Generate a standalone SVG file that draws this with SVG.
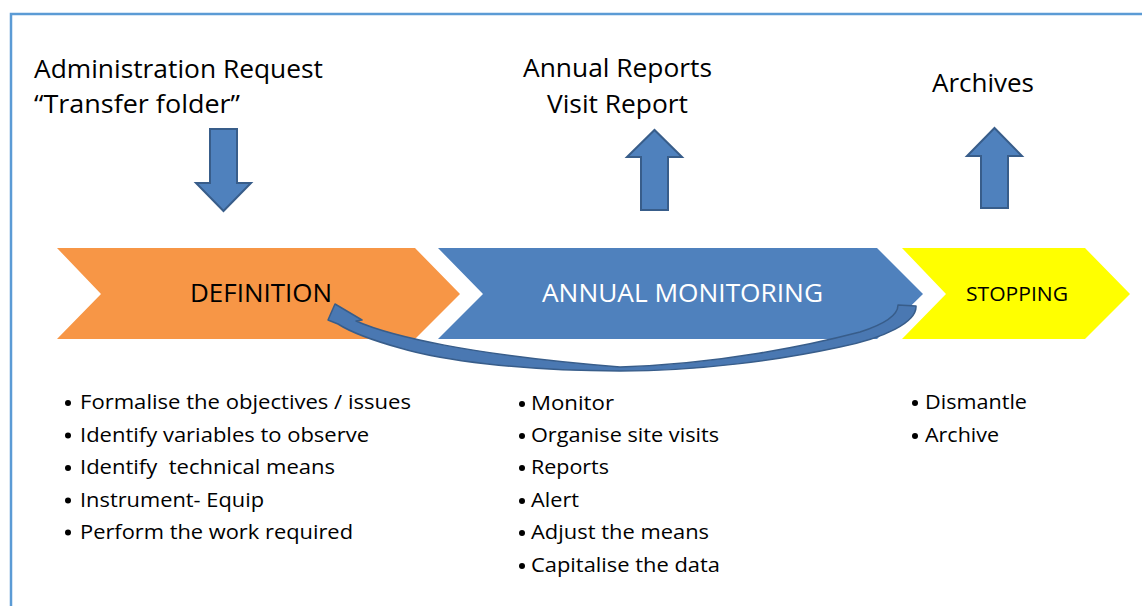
<svg xmlns="http://www.w3.org/2000/svg" width="1142" height="606" viewBox="0 0 1142 606">
<style>
.t{font-family:"Open Sans","Noto Sans",sans-serif;fill:#000}
.big{font-size:25px}
.lst{font-size:20px}
.blk{fill:#4F81BD;stroke:#385D8A;stroke-width:2;stroke-linejoin:miter}
.dot{fill:#000}
</style>
<rect x="11" y="14" width="1150" height="610" fill="none" stroke="#5B9BD5" stroke-width="2.5"/>

<g id="label-admin">
<text class="t big" x="34" y="78" textLength="289" lengthAdjust="spacingAndGlyphs">Administration Request</text>
<text class="t big" x="34" y="113" textLength="206" lengthAdjust="spacingAndGlyphs">“Transfer folder”</text>
</g>
<g id="label-reports">
<text class="t big" x="523" y="77" textLength="189" lengthAdjust="spacingAndGlyphs">Annual Reports</text>
<text class="t big" x="547" y="113" textLength="141" lengthAdjust="spacingAndGlyphs">Visit Report</text>
</g>
<g id="label-archives">
<text class="t big" x="932" y="92" textLength="102" lengthAdjust="spacingAndGlyphs">Archives</text>
</g>

<g id="definition">
<polygon points="57,248 415,248 460,294 415,339 57,339 101,294" fill="#F79646"/>
<text class="t big" x="190" y="302" textLength="142" lengthAdjust="spacingAndGlyphs">DEFINITION</text>
</g>
<g id="monitoring">
<polygon points="438,248 877,248 923,294 877,339 438,339 483,294" fill="#4F81BD"/>
<text class="t big" x="542" y="302" textLength="281" lengthAdjust="spacingAndGlyphs" style="fill:#fff">ANNUAL MONITORING</text>
</g>
<g id="stopping">
<polygon points="902,248 1085,248 1130,294 1085,339 902,339 946,294" fill="#FFFF00"/>
<text class="t" x="966" y="301" font-size="20" textLength="102" lengthAdjust="spacingAndGlyphs">STOPPING</text>
</g>

<g id="connectors">
<path class="blk" d="M210,129 L237,129 L237,183 L251,183 L223.5,211 L196,183 L210,183 Z"/>
<path class="blk" d="M641,210 L668,210 L668,157 L682,157 L654.5,130 L627,157 L641,157 Z"/>
<path class="blk" d="M981,208 L1008,208 L1008,156 L1022,156 L994.5,128 L967,156 L981,156 Z"/>
<path fill="#4A78B2" stroke="#385D8A" stroke-width="1.5" stroke-linejoin="round" d="M898,305 L916,306 C917,322 885,338 840,347 C780,360 700,371 620,371 C520,371 440,360 400,348 C375,341 352,333 338,324 L328,320 L335,304 L362,320 L356,321 C390,336 470,355 620,367 C720,364 810,345 860,332 C885,324 898,315 898,305 Z"/>
</g>

<g id="list-definition">
<circle class="dot" cx="68" cy="403" r="3"/>
<circle class="dot" cx="68" cy="435.5" r="3"/>
<circle class="dot" cx="68" cy="468" r="3"/>
<circle class="dot" cx="68" cy="500.5" r="3"/>
<circle class="dot" cx="68" cy="532.5" r="3"/>
<text class="t lst" x="80" y="409" textLength="331" lengthAdjust="spacingAndGlyphs">Formalise the objectives / issues</text>
<text class="t lst" x="80" y="441.5" textLength="289" lengthAdjust="spacingAndGlyphs">Identify variables to observe</text>
<text class="t lst" x="80" y="474" textLength="255" lengthAdjust="spacingAndGlyphs" xml:space="preserve">Identify  technical means</text>
<text class="t lst" x="80" y="506.5" textLength="184" lengthAdjust="spacingAndGlyphs">Instrument- Equip</text>
<text class="t lst" x="80" y="538.5" textLength="273" lengthAdjust="spacingAndGlyphs">Perform the work required</text>
</g>
<g id="list-monitoring">
<circle class="dot" cx="522" cy="404" r="3"/>
<circle class="dot" cx="522" cy="436" r="3"/>
<circle class="dot" cx="522" cy="468" r="3"/>
<circle class="dot" cx="522" cy="501" r="3"/>
<circle class="dot" cx="522" cy="533" r="3"/>
<circle class="dot" cx="522" cy="566" r="3"/>
<text class="t lst" x="531" y="410" textLength="83" lengthAdjust="spacingAndGlyphs">Monitor</text>
<text class="t lst" x="531" y="442" textLength="188" lengthAdjust="spacingAndGlyphs">Organise site visits</text>
<text class="t lst" x="531" y="474" textLength="78" lengthAdjust="spacingAndGlyphs">Reports</text>
<text class="t lst" x="531" y="507" textLength="48" lengthAdjust="spacingAndGlyphs">Alert</text>
<text class="t lst" x="531" y="539" textLength="178" lengthAdjust="spacingAndGlyphs">Adjust the means</text>
<text class="t lst" x="531" y="572" textLength="189" lengthAdjust="spacingAndGlyphs">Capitalise the data</text>
</g>
<g id="list-stopping">
<circle class="dot" cx="915" cy="403" r="3"/>
<circle class="dot" cx="915" cy="436" r="3"/>
<text class="t lst" x="925" y="409" textLength="102" lengthAdjust="spacingAndGlyphs">Dismantle</text>
<text class="t lst" x="925" y="442" textLength="74" lengthAdjust="spacingAndGlyphs">Archive</text>
</g>
</svg>
